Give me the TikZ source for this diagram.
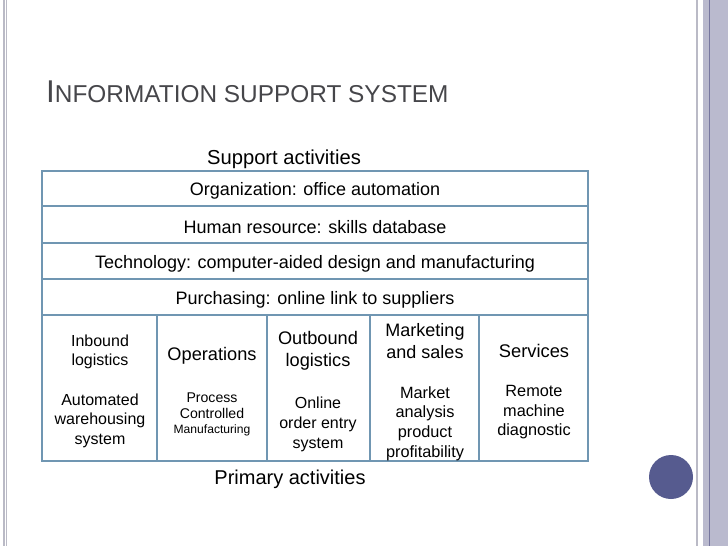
\documentclass[tikz,border=0pt]{standalone}
\usepackage{fontspec}
\setmainfont{Liberation Sans}
\definecolor{gridblue}{RGB}{112,150,178}
\definecolor{titlegray}{RGB}{70,70,74}
\definecolor{panel}{RGB}{186,186,206}
\definecolor{paneldark}{RGB}{118,118,158}
\definecolor{bordergray}{RGB}{186,186,198}
\definecolor{dotblue}{RGB}{86,91,143}
\tikzset{
  cell/.style={draw=gridblue, line width=2pt, inner sep=0pt, outer sep=0pt},
  txt/.style={inner sep=0pt, outer sep=0pt, align=center, text=black, yshift=-2pt},
}
\newcommand{\fs}[2]{\fontsize{#1}{#2}\selectfont}
\begin{document}
\begin{tikzpicture}[x=1pt,y=-1pt]
\useasboundingbox (0,0) rectangle (728,546);
% decorative borders
\fill[panel] (703,0) rectangle (728,546);
\draw[paneldark, line width=1.5pt] (709.5,0) -- (709.5,546);
\draw[bordergray, line width=2pt] (697,0) -- (697,546);
\draw[bordergray, line width=1.5pt] (3.8,0) -- (3.8,546);
\draw[bordergray, line width=1.5pt] (6.6,0) -- (6.6,546);
% title
\node[anchor=base west, inner sep=0pt, text=titlegray] (title) at (46,102.5)
  {\fs{31.5}{34}I\fs{24.4}{27}NFORMATION SUPPORT SYSTEM};
% support rows
\node[cell, minimum width=546pt, minimum height=35pt] (r1) at (315,188.5) {};
\node[cell, minimum width=546pt, minimum height=37pt] (r2) at (315,224.5) {};
\node[cell, minimum width=546pt, minimum height=36pt] (r3) at (315,261) {};
\node[cell, minimum width=546pt, minimum height=36pt] (r4) at (315,297) {};
% primary columns
\node[cell, minimum width=115pt, minimum height=146pt] (c1) at (99.5,388) {};
\node[cell, minimum width=110pt, minimum height=146pt] (c2) at (212,388) {};
\node[cell, minimum width=103pt, minimum height=146pt] (c3) at (318.5,388) {};
\node[cell, minimum width=109pt, minimum height=146pt] (c4) at (424.5,388) {};
\node[cell, minimum width=109pt, minimum height=146pt] (c5) at (533.5,388) {};
% labels
\node[txt, font=\fs{20.2}{23}] (sup) at (284,157) {Support activities};
\node[txt, font=\fs{18}{21}] (t1) at (315,189) {Organization: office automation};
\node[txt, font=\fs{18}{21}] (t2) at (315,225) {Human resource: skills database};
\node[txt, font=\fs{18}{21}] (t3) at (315,262) {Technology: computer-aided design and manufacturing};
\node[txt, font=\fs{18}{21}] (t4) at (315,298) {Purchasing: online link to suppliers};
\node[txt, font=\fs{20}{23}] (prim) at (290,477) {Primary activities};
% column headers
\node[txt, font=\fs{16}{18.5}] (h1) at (100,350) {Inbound\\logistics};
\node[txt, font=\fs{18.2}{21}] (h2) at (212,354) {Operations};
\node[txt, font=\fs{18.2}{22}] (h3) at (318,349) {Outbound\\logistics};
\node[txt, font=\fs{18}{21.5}] (h4) at (425,339) {Marketing\\and sales};
\node[txt, font=\fs{18.3}{21}] (h5) at (534,349) {Services};
% column bodies
\node[txt, font=\fs{16}{19.5}] (b1) at (100,418.5) {Automated\\warehousing\\system};
\node[txt, font=\fs{14.1}{16.5}] (b2a) at (212,403.5) {Process\\Controlled};
\node[txt, font=\fs{12.1}{14}] (b2b) at (212,428) {Manufacturing};
\node[txt, font=\fs{16}{20}] (b3) at (318,422) {Online\\order entry\\system};
\node[txt, font=\fs{16.3}{19.7}] (b4) at (425,421.5) {Market\\analysis\\product\\profitability};
\node[txt, font=\fs{16.3}{19.5}] (b5) at (534,410.5) {Remote\\machine\\diagnostic};
% dot
\fill[dotblue] (671,477) circle (22);
\end{tikzpicture}
\end{document}
